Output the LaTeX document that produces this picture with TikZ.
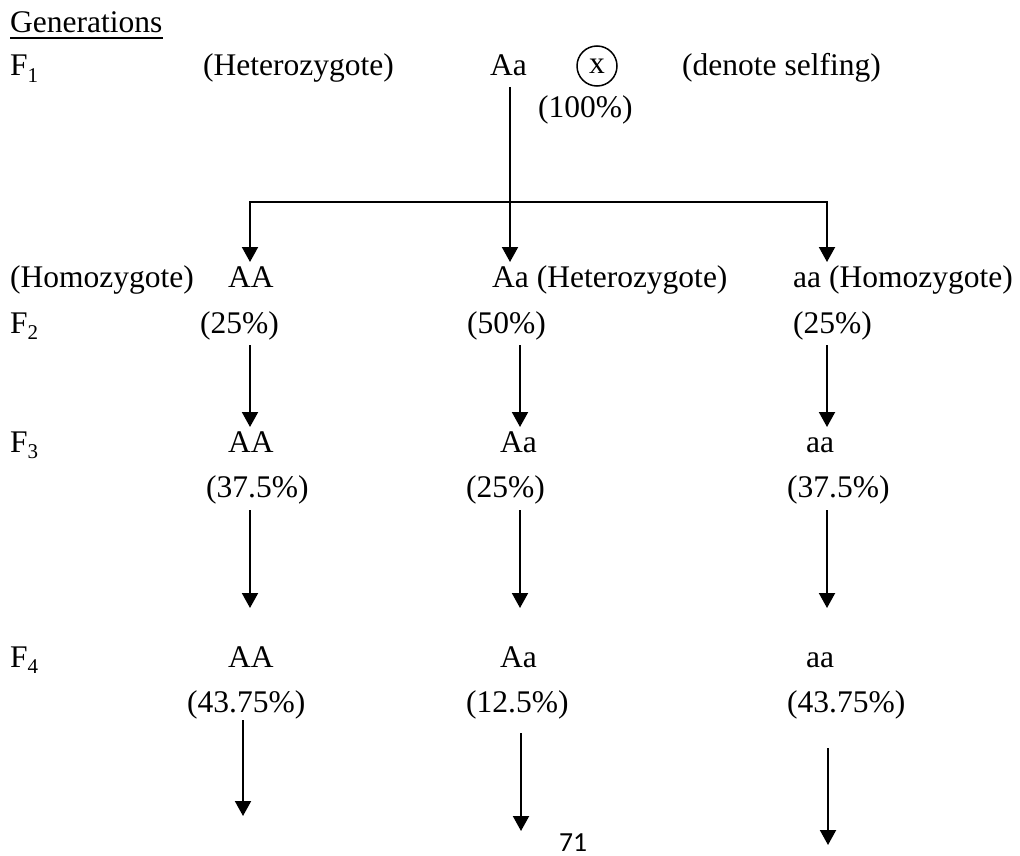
\documentclass[tikz,border=0pt]{standalone}
\usepackage{fontspec}
\setmainfont{Liberation Serif}
\newfontfamily\pagenumfont{Carlito}
\usetikzlibrary{arrows.meta}
% lowered, smaller index for the generation labels
\newcommand\gensub[1]{\raisebox{-0.22em}{\fontsize{21}{21}\selectfont #1}}
\begin{document}
\begin{tikzpicture}[x=1pt,y=-1pt,
  txt/.style={anchor=base west, inner sep=0pt, font=\fontsize{31.5}{36}\selectfont},
  arr/.style={line width=2pt, -{Triangle[width=16pt,length=15pt]}},
  ln/.style={line width=2pt}]
\useasboundingbox (0,0) rectangle (1020,856);

% heading
\node[txt] (gen) at (10,33) {Generations};
\draw[ln] ([yshift=-5pt]gen.base west) -- ([yshift=-5pt]gen.base east);

% F1
\node[txt] (f1) at (10,76) {F\gensub{1}};
\node[txt] (het1) at (203,76) {(Heterozygote)};
\node[txt] (Aa1) at (490,76) {Aa};
\node[draw, circle, line width=1.5pt, minimum size=40pt, inner sep=0pt,
      font=\fontsize{31.5}{36}\selectfont] (self) at (597,66) {x};
\node[txt] (selfnote) at (682,76) {(denote selfing)};
\node[txt] (p100) at (538,118) {(100\%)};

% F2
\node[txt] (homo2) at (10,287) {(Homozygote)};
\node[txt] (AA2) at (228,287) {AA};
\node[txt] (Aa2) at (492,287) {Aa (Heterozygote)};
\node[txt] (aa2) at (793,287) {aa (Homozygote)};
\node[txt] (f2) at (10,333) {F\gensub{2}};
\node[txt] (pAA2) at (200,333) {(25\%)};
\node[txt] (pAa2) at (467,333) {(50\%)};
\node[txt] (paa2) at (793,333) {(25\%)};

% F3
\node[txt] (f3) at (10,452) {F\gensub{3}};
\node[txt] (AA3) at (228,452) {AA};
\node[txt] (Aa3) at (500,452) {Aa};
\node[txt] (aa3) at (806,452) {aa};
\node[txt] (pAA3) at (206,497) {(37.5\%)};
\node[txt] (pAa3) at (466,497) {(25\%)};
\node[txt] (paa3) at (787,497) {(37.5\%)};

% F4
\node[txt] (f4) at (10,667) {F\gensub{4}};
\node[txt] (AA4) at (228,667) {AA};
\node[txt] (Aa4) at (500,667) {Aa};
\node[txt] (aa4) at (806,667) {aa};
\node[txt] (pAA4) at (187,712) {(43.75\%)};
\node[txt] (pAa4) at (466,712) {(12.5\%)};
\node[txt] (paa4) at (787,712) {(43.75\%)};

% page number
\node[anchor=base west, inner sep=0pt, font=\pagenumfont\fontsize{27.6}{30}\selectfont] (pg) at (559,851) {71};

% arrow end points
\coordinate (stem) at (510,87);
\coordinate (busM) at (510,202);
\coordinate (busL) at (250,202);
\coordinate (busR) at (827,202);
\coordinate (tAA2) at (250,262);
\coordinate (tAa2) at (510,262);
\coordinate (taa2) at (827,262);

\coordinate (sAA2) at (250,345);  \coordinate (tAA3) at (250,427);
\coordinate (sAa2) at (520,345);  \coordinate (tAa3) at (520,427);
\coordinate (saa2) at (827,345);  \coordinate (taa3) at (827,427);

\coordinate (sAA3) at (250,510);  \coordinate (tAA4) at (250,608);
\coordinate (sAa3) at (520,510);  \coordinate (tAa4) at (520,608);
\coordinate (saa3) at (827,510);  \coordinate (taa4) at (827,608);

\coordinate (sAA4) at (243,720);  \coordinate (tAA5) at (243,816);
\coordinate (sAa4) at (521,733);  \coordinate (tAa5) at (521,831);
\coordinate (saa4) at (828,748);  \coordinate (taa5) at (828,845);

% selfing of F1 into F2
\draw[arr] (stem) -- (tAa2);
\draw[arr] (busM) -- (busL) -- (tAA2);
\draw[arr] (busM) -- (busR) -- (taa2);

% later generations
\draw[arr] (sAA2) -- (tAA3);
\draw[arr] (sAa2) -- (tAa3);
\draw[arr] (saa2) -- (taa3);
\draw[arr] (sAA3) -- (tAA4);
\draw[arr] (sAa3) -- (tAa4);
\draw[arr] (saa3) -- (taa4);
\draw[arr] (sAA4) -- (tAA5);
\draw[arr] (sAa4) -- (tAa5);
\draw[arr] (saa4) -- (taa5);
\end{tikzpicture}
\end{document}
